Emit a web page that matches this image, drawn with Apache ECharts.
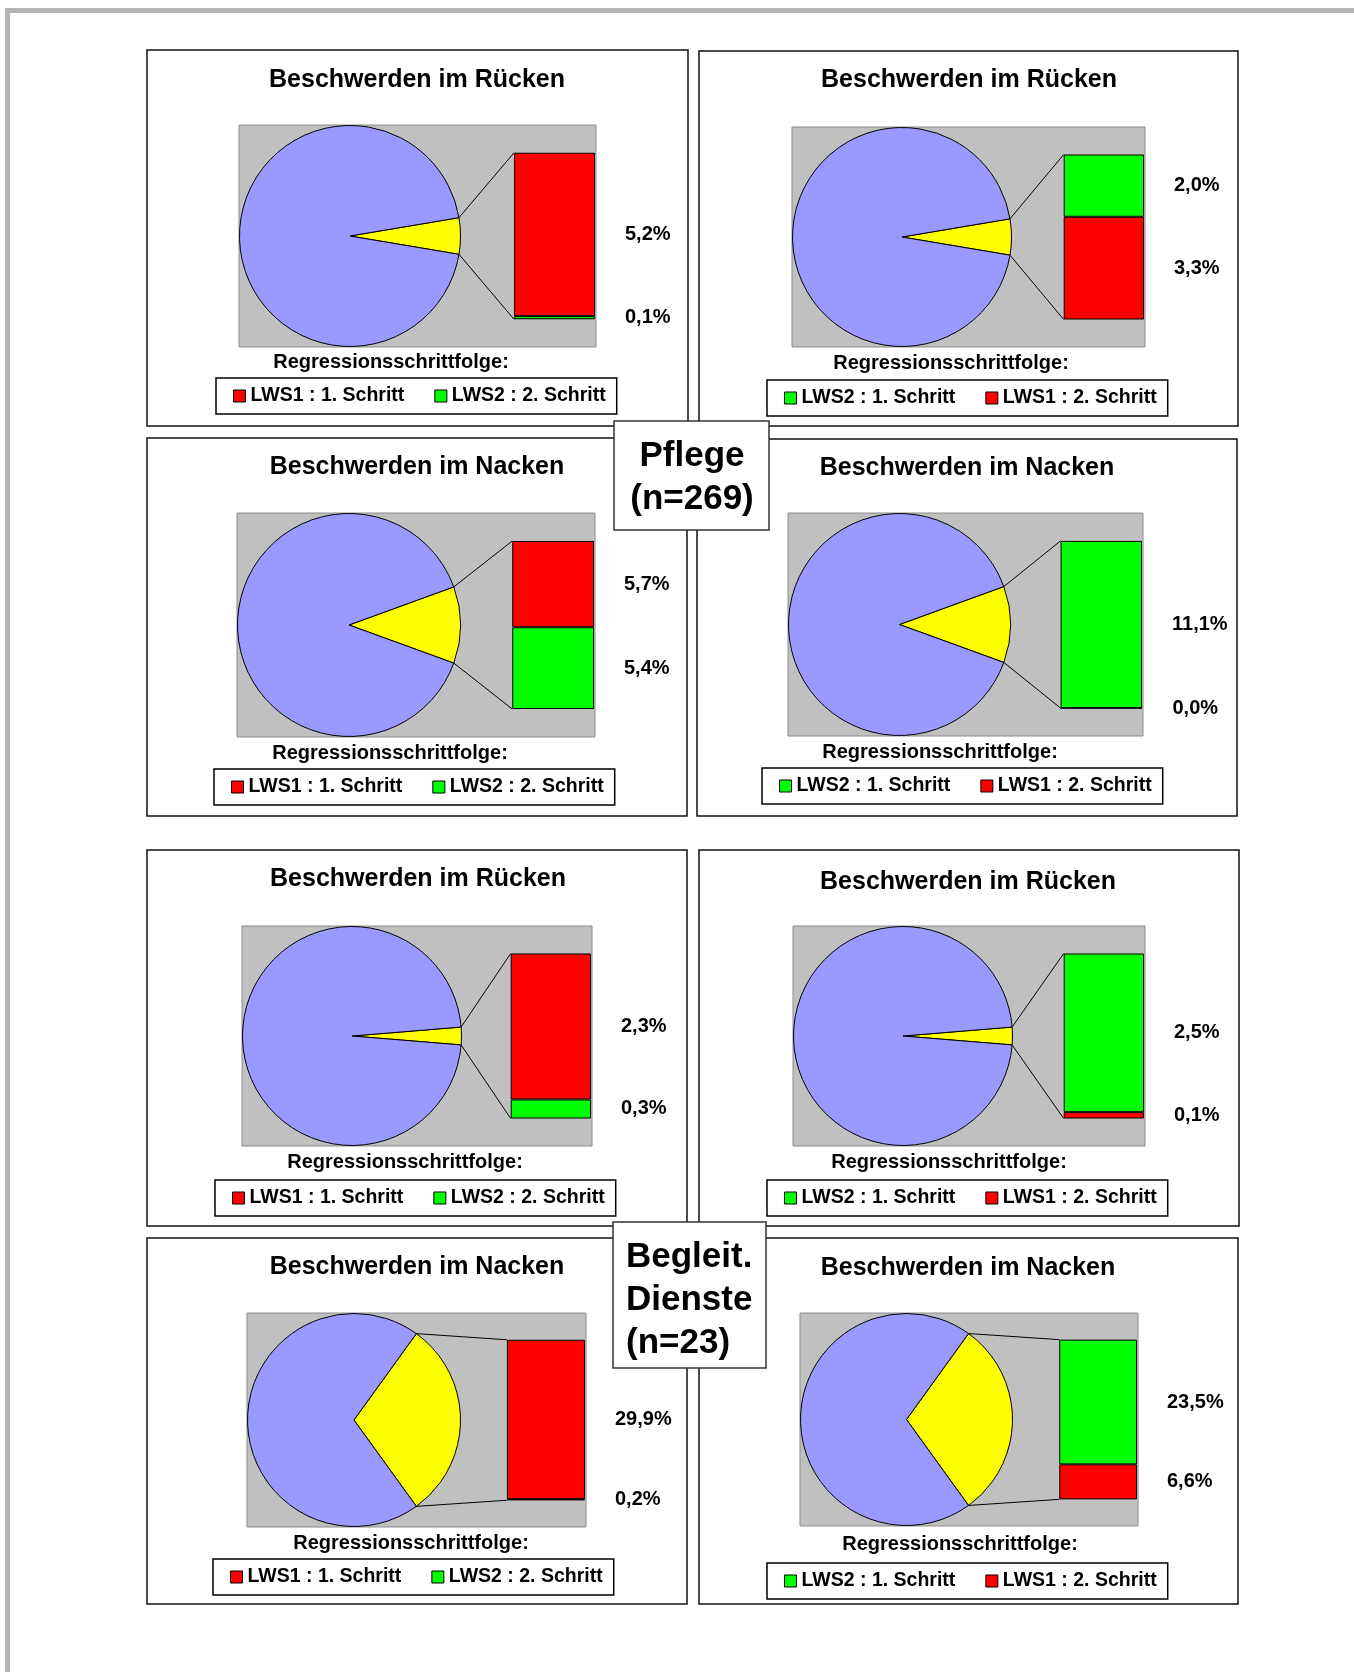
<!DOCTYPE html>
<html>
<head>
<meta charset="utf-8">
<title>Beschwerden im Rücken / Nacken – Regressionsschrittfolge</title>
<script src="https://cdn.jsdelivr.net/npm/echarts@6/dist/echarts.min.js"></script>
<style>
  html, body { margin: 0; padding: 0; background: #ffffff; }
  #chart { width: 1354px; height: 1672px; }
</style>
</head>
<body>
<div id="chart"></div>
<script>
// ---- data -------------------------------------------------------------
// Eight pie-of-bar panels: left column = LWS1 entered first, right column = LWS2 first.
const panelTitles = [
  'Beschwerden im Rücken', 'Beschwerden im Rücken',
  'Beschwerden im Nacken', 'Beschwerden im Nacken',
  'Beschwerden im Rücken', 'Beschwerden im Rücken',
  'Beschwerden im Nacken', 'Beschwerden im Nacken'
];
const step1Names = [
  'LWS1 : 1. Schritt', 'LWS2 : 1. Schritt',
  'LWS1 : 1. Schritt', 'LWS2 : 1. Schritt',
  'LWS1 : 1. Schritt', 'LWS2 : 1. Schritt',
  'LWS1 : 1. Schritt', 'LWS2 : 1. Schritt'
];
const step2Names = [
  'LWS2 : 2. Schritt', 'LWS1 : 2. Schritt',
  'LWS2 : 2. Schritt', 'LWS1 : 2. Schritt',
  'LWS2 : 2. Schritt', 'LWS1 : 2. Schritt',
  'LWS2 : 2. Schritt', 'LWS1 : 2. Schritt'
];
// explained variance in percent
const step1Values = [5.2, 2.0, 5.7, 11.1, 2.3, 2.5, 29.9, 23.5];
const step2Values = [0.1, 3.3, 5.4, 0.0, 0.3, 0.1, 0.2, 6.6];
const stepLegendTitle = 'Regressionsschrittfolge:';
const groupLabels = ['Pflege\n(n=269)', 'Begleit.\nDienste\n(n=23)'];

// ---- layout (page pixels) ---------------------------------------------
const panelFrames = [
  [147, 50, 688, 426], [699, 51, 1238, 426],
  [147, 438, 687, 816], [697, 439, 1237, 816],
  [147, 850, 687, 1226], [699, 850, 1239, 1226],
  [147, 1238, 687, 1604], [699, 1238, 1238, 1604]
];
const plotAreas = [
  [239, 125, 596, 347], [792, 127, 1145, 347],
  [237, 513, 595, 737], [788, 513, 1143, 736],
  [242, 926, 592, 1146], [793, 926, 1145, 1146],
  [247, 1313, 586, 1527], [800, 1313, 1138, 1526]
];
const titleCenters = [
  [417, 80], [969, 80], [417, 467], [967, 468],
  [418, 879], [968, 882], [417, 1267], [968, 1268]
];
const stepTitleCenters = [
  [391, 362], [951, 363], [390, 753], [940, 752],
  [405, 1162], [949, 1162], [411, 1543], [960, 1544]
];
const legendCorners = [
  [216, 378], [767, 380], [214, 769], [762, 768],
  [215, 1180], [767, 1180], [213, 1559], [767, 1563]
];
const groupBoxes = [
  { box: [614, 421, 769, 530], x: 692, y: 478, align: 'center' },
  { box: [613, 1222, 766, 1368], x: 626, y: 1300, align: 'left' }
];

// ---- styles -----------------------------------------------------------
const FONT = '"Liberation Sans", Arial, Helvetica, sans-serif';
const RED = '#FF0000', GREEN = '#00FF00', YELLOW = '#FFFF00', BLUE = '#9999FF';
const PLOT_BG = '#C0C0C0';
const colorOf = name => name.indexOf('LWS1') === 0 ? RED : GREEN;
const pctLabel = v => v.toFixed(1).replace('.', ',') + '%';

const chart = echarts.init(document.getElementById('chart'), null, { renderer: 'canvas' });

// pie radius: the circle fills the height of its grey plot area
const pieRadius = ph => ph / 2 - 0.5;

function buildOption(connectors) {
  const grid = [], xAxis = [], yAxis = [], series = [], legend = [];
  const graphic = [];

  // page frame (top and left edge)
  graphic.push({ type: 'rect', z: 0, shape: { x: 5, y: 8, width: 1349, height: 5 }, style: { fill: '#B4B4B4' } });
  graphic.push({ type: 'rect', z: 0, shape: { x: 5, y: 8, width: 5, height: 1664 }, style: { fill: '#B4B4B4' } });

  panelTitles.forEach((title, i) => {
    const f = panelFrames[i], p = plotAreas[i];
    const ph = p[3] - p[1], pw = p[2] - p[0];
    const total = step1Values[i] + step2Values[i];

    // panel frame and grey plot area
    graphic.push({ type: 'rect', z: 0, shape: { x: f[0], y: f[1], width: f[2] - f[0], height: f[3] - f[1] },
      style: { fill: '#FFFFFF', stroke: '#111111', lineWidth: 1.5 } });
    graphic.push({ type: 'rect', z: 0, shape: { x: p[0], y: p[1], width: pw, height: ph },
      style: { fill: PLOT_BG, stroke: '#8C8C8C', lineWidth: 1 } });

    // panel title and legend caption
    graphic.push({ type: 'text', z: 1, x: titleCenters[i][0], y: titleCenters[i][1],
      style: { text: title, fill: '#000', font: 'bold 25px ' + FONT, align: 'center', verticalAlign: 'middle' } });
    graphic.push({ type: 'text', z: 1, x: stepTitleCenters[i][0], y: stepTitleCenters[i][1],
      style: { text: stepLegendTitle, fill: '#000', font: 'bold 20px ' + FONT, align: 'center', verticalAlign: 'middle' } });

    // pie: yellow share = total of the two steps, centred on the right-hand side
    const r = pieRadius(ph);
    series.push({
      type: 'pie', name: 'Anteil ' + i, animation: false, silent: true,
      center: [p[0] + ph / 2, p[1] + ph / 2], radius: r,
      startAngle: total / 100 * 360 / 2, clockwise: true,
      label: { show: false }, labelLine: { show: false },
      emphasis: { disabled: true },
      itemStyle: { borderColor: '#000', borderWidth: 1 },
      data: [
        { name: 'erklärt', value: total, itemStyle: { color: YELLOW } },
        { name: 'nicht erklärt', value: 100 - total, itemStyle: { color: BLUE } }
      ]
    });

    // stacked bar to the right of the pie
    const barW = ph * 0.365, barH = ph * 0.75;
    grid.push({ left: p[2] - 1 - barW, top: p[1] + (ph - barH) / 2, width: barW, height: barH, containLabel: false });
    xAxis.push({ type: 'category', gridIndex: i, data: [''], show: false });
    yAxis.push({ type: 'value', gridIndex: i, min: 0, max: total, show: false });

    const barLabel = {
      show: true, position: 'right', distance: 30, color: '#000',
      fontFamily: FONT, fontWeight: 'bold', fontSize: 20,
      formatter: prm => pctLabel(prm.value)
    };
    [[step2Names[i], step2Values[i]], [step1Names[i], step1Values[i]]].forEach(([name, val]) => {
      series.push({
        type: 'bar', name: name, xAxisIndex: i, yAxisIndex: i, stack: 'schritt' + i,
        barWidth: '100%', animation: false, silent: true,
        itemStyle: { color: colorOf(name), borderColor: '#000', borderWidth: 1 },
        label: barLabel,
        data: [val]
      });
    });

    legend.push({
      left: legendCorners[i][0], top: legendCorners[i][1], orient: 'horizontal',
      data: [step1Names[i], step2Names[i]], icon: 'rect', selectedMode: false,
      itemWidth: 12, itemHeight: 12, itemGap: 30,
      padding: [8, 11, 8, 17], borderColor: '#000', borderWidth: 1.5, backgroundColor: '#FFFFFF',
      itemStyle: { borderColor: '#000', borderWidth: 1 },
      textStyle: { fontFamily: FONT, fontWeight: 'bold', fontSize: 19.5, color: '#000', lineHeight: 20 }
    });
  });

  // connector lines between pie slice and bar
  (connectors || []).forEach(c => {
    graphic.push({ type: 'line', z: 1, shape: c, style: { stroke: '#000', lineWidth: 1 } });
  });

  // group captions
  groupBoxes.forEach((g, k) => {
    const b = g.box;
    graphic.push({ type: 'rect', z: 5, shape: { x: b[0], y: b[1], width: b[2] - b[0], height: b[3] - b[1] },
      style: { fill: '#FFFFFF', stroke: '#333333', lineWidth: 1.5 } });
    graphic.push({ type: 'text', z: 6, x: g.x, y: g.y,
      style: { text: groupLabels[k], fill: '#000', font: 'bold 35px ' + FONT,
        align: g.align, verticalAlign: 'middle', lineHeight: 43 } });
  });

  return { animation: false, backgroundColor: '#FFFFFF', grid, xAxis, yAxis, series, legend, graphic };
}

chart.setOption(buildOption());

// connector end points: pie slice edges and bar corners via the bar axes
const connectors = [];
panelTitles.forEach((t, i) => {
  const p = plotAreas[i];
  const ph = p[3] - p[1];
  const r = pieRadius(ph), cx = p[0] + ph / 2, cy = p[1] + ph / 2;
  const total = step1Values[i] + step2Values[i];
  const half = total / 100 * Math.PI;
  const px = cx + r * Math.cos(half), dy = r * Math.sin(half);
  const barW = ph * 0.365;
  const barLeft = p[2] - 1 - barW;
  const yTop = chart.convertToPixel({ yAxisIndex: i }, total);
  const yBottom = chart.convertToPixel({ yAxisIndex: i }, 0);
  connectors.push({ x1: px, y1: cy - dy, x2: barLeft, y2: yTop });
  connectors.push({ x1: px, y1: cy + dy, x2: barLeft, y2: yBottom });
});
chart.setOption(buildOption(connectors), true);
</script>
</body>
</html>
